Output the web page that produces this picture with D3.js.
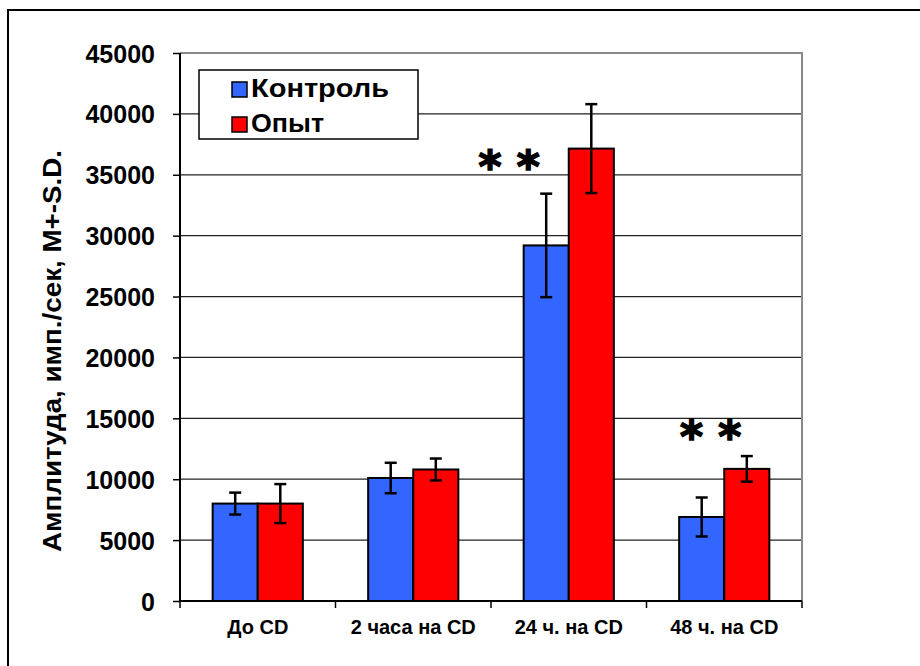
<!DOCTYPE html>
<html>
<head>
<meta charset="utf-8">
<script src="https://cdn.jsdelivr.net/npm/d3@7"></script>
<style>
  body { margin: 0; background: #fff; }
  text { font-family: "Liberation Sans", Arial, sans-serif; font-weight: bold; }
</style>
</head>
<body>
<svg id="chart" width="920" height="666"></svg>
<script>
const categories = ["До CD", "2 часа на CD", "24 ч. на CD", "48 ч. на CD"];
const seriesNames = ["Контроль", "Опыт"];
const control = [8000, 10100, 29200, 6900];
const controlSD = [900, 1250, 4250, 1600];
const experiment = [8000, 10800, 37150, 10850];
const experimentSD = [1600, 900, 3650, 1050];
const yTicks = [0, 5000, 10000, 15000, 20000, 25000, 30000, 35000, 40000, 45000];
// significance marks: category, level on the value axis
const starCats = ["24 ч. на CD", "48 ч. на CD"];
const starLevels = [36000, 13800];

const colors = ["#3366ff", "#ff0000"];

const svg = d3.select("#chart");
const margin = {top: 53, right: 118, bottom: 65, left: 180};
const width = 920, height = 666;
const innerW = width - margin.left - margin.right;
const innerH = height - margin.top - margin.bottom;

// outer frame
svg.append("rect")
    .attr("x", 8).attr("y", 10)
    .attr("width", 940).attr("height", 700)
    .attr("fill", "none").attr("stroke", "#000").attr("stroke-width", 2);

const g = svg.append("g").attr("transform", `translate(${margin.left},${margin.top})`);

const x0 = d3.scaleBand().domain(categories).range([0, innerW]).paddingInner(0.42).paddingOuter(0.21);
const x1 = d3.scaleBand().domain(seriesNames).range([0, x0.bandwidth()]);
const y = d3.scaleLinear().domain([0, 45000]).range([innerH, 0]);

// grid
g.selectAll(".grid").data(yTicks.slice(1, -1)).enter().append("line")
    .attr("x1", 0).attr("x2", innerW)
    .attr("y1", d => y(d)).attr("y2", d => y(d))
    .attr("stroke", "#222").attr("stroke-width", 1.2);

// plot area border (top/right gray)
g.append("path")
    .attr("d", `M0,0H${innerW}V${innerH}`)
    .attr("fill", "none").attr("stroke", "#888").attr("stroke-width", 2);

const data = categories.map((c, i) => ({
  cat: c,
  vals: [
    {s: seriesNames[0], v: control[i], sd: controlSD[i]},
    {s: seriesNames[1], v: experiment[i], sd: experimentSD[i]}
  ]
}));

const grp = g.selectAll(".grp").data(data).enter().append("g")
    .attr("transform", d => `translate(${x0(d.cat)},0)`);

grp.selectAll("rect").data(d => d.vals).enter().append("rect")
    .attr("x", d => x1(d.s))
    .attr("y", d => y(d.v))
    .attr("width", x1.bandwidth())
    .attr("height", d => innerH - y(d.v))
    .attr("fill", (d, i) => colors[i])
    .attr("stroke", "#000").attr("stroke-width", 2);

// error bars
const eb = grp.selectAll(".eb").data(d => d.vals).enter().append("g")
    .attr("transform", d => `translate(${x1(d.s) + x1.bandwidth() / 2},0)`);
eb.append("line")
    .attr("y1", d => y(d.v + d.sd)).attr("y2", d => y(d.v - d.sd))
    .attr("stroke", "#000").attr("stroke-width", 2.5);
eb.selectAll(".cap").data(d => [d.v + d.sd, d.v - d.sd]).enter().append("line")
    .attr("x1", -6).attr("x2", 6)
    .attr("y1", d => y(d)).attr("y2", d => y(d))
    .attr("stroke", "#000").attr("stroke-width", 2.5);

// significance stars
const starShift = [-37, 9];
starCats.forEach((c, i) => {
  g.append("text")
    .attr("x", x0(c) + x1(seriesNames[0]) + x1.bandwidth() / 2 + starShift[i])
    .attr("y", y(starLevels[i]) + 19)
    .attr("text-anchor", "middle")
    .attr("font-size", 44)
    .attr("stroke", "#000").attr("stroke-width", 1.6)
    .style("font-family", "DejaVu Sans")
    .text("* *");
});

// y axis
const yAxis = g.append("g").call(d3.axisLeft(y).tickValues(yTicks).tickSize(7).tickPadding(18).tickFormat(d3.format("d")));
yAxis.select(".domain").attr("stroke", "#000").attr("stroke-width", 2).attr("d", `M0,0V${innerH}`);
yAxis.selectAll(".tick line").attr("stroke", "#000").attr("stroke-width", 1.5);
yAxis.selectAll("text").attr("font-size", 25).attr("fill", "#000").attr("dy", "0.36em")
    .style("font-family", "Liberation Sans").style("font-weight", "bold");

// x axis
const xAxis = g.append("g").attr("transform", `translate(0,${innerH})`)
    .call(d3.axisBottom(x0).tickSize(0).tickPadding(19));
xAxis.select(".domain").attr("stroke", "#000").attr("stroke-width", 2).attr("d", `M0,0H${innerW}`);
xAxis.selectAll("text").attr("font-size", 20).attr("fill", "#000")
    .style("font-family", "Liberation Sans").style("font-weight", "bold");
const bounds = categories.map(c => x0(c) - x0.step() * x0.paddingInner() / 2).concat([innerW]);
xAxis.selectAll(".sep").data(bounds).enter().append("line")
    .attr("x1", d => d).attr("x2", d => d).attr("y1", 0).attr("y2", 7)
    .attr("stroke", "#000").attr("stroke-width", 1.5);

// y title
svg.append("text")
    .attr("transform", "translate(61,351) rotate(-90)")
    .attr("text-anchor", "middle")
    .attr("font-size", 25)
    .attr("textLength", 402)
    .attr("lengthAdjust", "spacingAndGlyphs")
    .text("Амплитуда, имп./сек, M+-S.D.");

// legend
const lg = svg.append("g").attr("transform", "translate(199,70)");
lg.append("rect").attr("width", 219).attr("height", 69)
    .attr("fill", "#fff").attr("stroke", "#000").attr("stroke-width", 1.5);
const legendLen = [138, 73];
seriesNames.forEach((s, i) => {
  lg.append("rect").attr("x", 33).attr("y", 12 + i * 35).attr("width", 15).attr("height", 15)
      .attr("fill", colors[i]).attr("stroke", "#000").attr("stroke-width", 1.5);
  lg.append("text").attr("x", 52).attr("y", 27 + i * 35)
      .attr("font-size", 25)
      .attr("textLength", legendLen[i])
      .attr("lengthAdjust", "spacingAndGlyphs")
      .text(s);
});
</script>
</body>
</html>
